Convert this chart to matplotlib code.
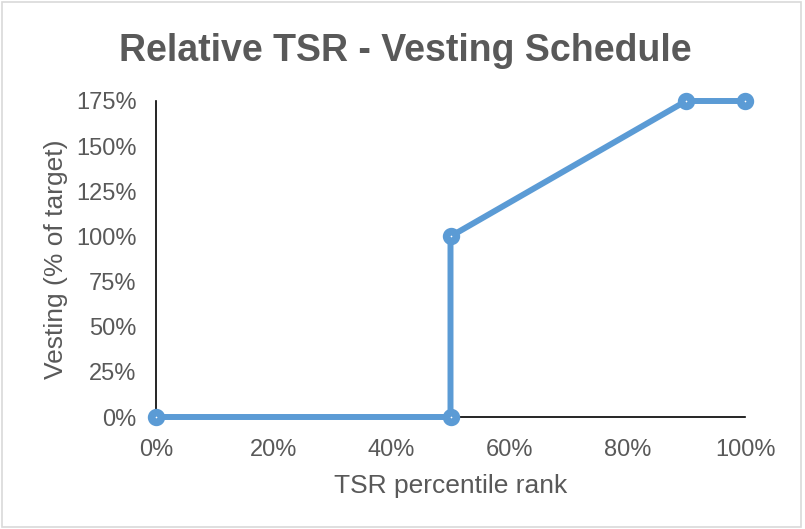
import matplotlib.pyplot as plt
from matplotlib.ticker import FuncFormatter
from matplotlib.patches import Rectangle

plt.rcParams['font.family'] = ['Liberation Sans', 'DejaVu Sans']

# vesting schedule points
tsr_rank = [0, 50, 50, 90, 100]
vesting = [0, 0, 100, 175, 175]
x_ticks = [0, 20, 40, 60, 80, 100]
y_ticks = [0, 25, 50, 75, 100, 125, 150, 175]

blue = "#5B9BD5"
grey = "#595959"

fig = plt.figure(figsize=(8.05, 5.29), dpi=100)
ax = fig.add_axes([156 / 805, 1 - 417 / 529, (745 - 156) / 805, (417 - 101) / 529])

ax.plot(tsr_rank, vesting, color=blue, linewidth=4.3, marker='o',
        markersize=7, markerfacecolor='white', markeredgecolor=blue,
        markeredgewidth=5.5, clip_on=False, zorder=5)

ax.set_xlim(0, 100)
ax.set_ylim(0, 175)
ax.set_xticks(x_ticks)
ax.set_yticks(y_ticks)
pct = FuncFormatter(lambda v, p: "%d%%" % v)
ax.xaxis.set_major_formatter(pct)
ax.yaxis.set_major_formatter(pct)
ax.tick_params(length=0, labelsize=17, labelcolor=grey)
ax.tick_params(axis='x', pad=15.5)
ax.tick_params(axis='y', pad=14)

for s in ['top', 'right']:
    ax.spines[s].set_visible(False)
ax.spines['left'].set_color('black')
ax.spines['bottom'].set_color('black')
ax.spines['left'].set_linewidth(1.2)
ax.spines['bottom'].set_linewidth(1.2)

ax.set_xlabel("TSR percentile rank", fontsize=19, color=grey, labelpad=10)
ax.set_ylabel("Vesting (% of target)", fontsize=19, color=grey, labelpad=6)

fig.text(405 / 805, 1 - 51 / 529, "Relative TSR - Vesting Schedule",
         ha='center', va='center', fontsize=27, fontweight='bold', color=grey)

fig.patches.append(Rectangle((2 / 805, 2 / 529), 799 / 805, 525 / 529,
                             transform=fig.transFigure, fill=False,
                             edgecolor="#D9D9D9", linewidth=1.2))

fig.savefig("out.png", dpi=100)
